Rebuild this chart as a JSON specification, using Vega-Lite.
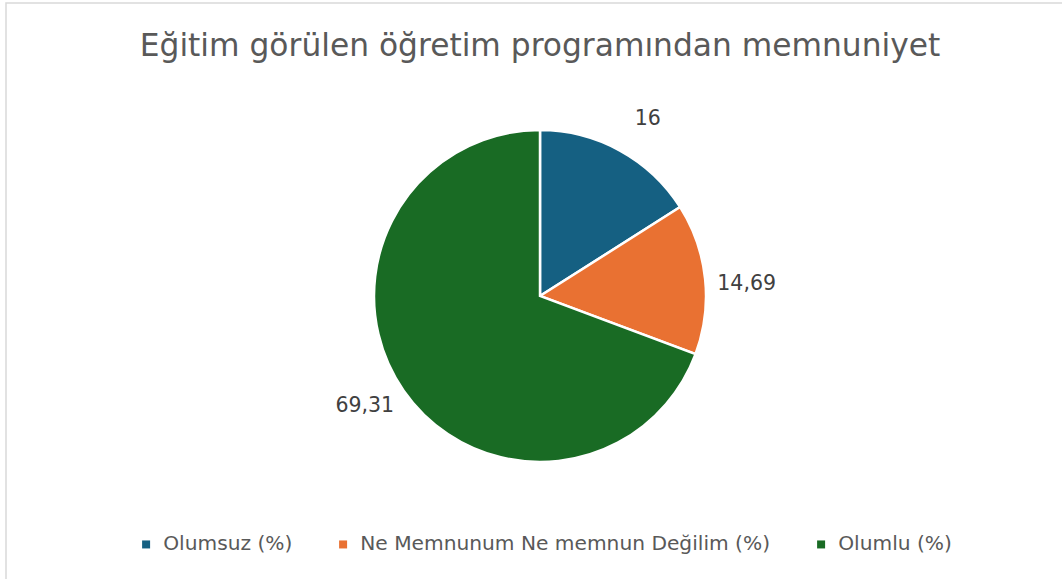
{
  "$schema": "https://vega.github.io/schema/vega-lite/v6.json",
  "width": 1068,
  "height": 586,
  "autosize": {"type": "none"},
  "padding": {"left": 6, "top": 3, "right": -12, "bottom": -10},
  "background": "white",
  "view": {"stroke": "#d9d9d9", "strokeWidth": 1.5, "fill": "white"},
  "config": {
    "view": {"stroke": "#d9d9d9", "strokeWidth": 1.5},
    "locale": {"number": {"decimal": ",", "thousands": ".", "grouping": [3], "currency": ["", " ₺"]}}
  },
  "title": {
    "text": "Eğitim görülen öğretim programından memnuniyet",
    "font": "DejaVu Sans",
    "fontSize": 31.3,
    "fontWeight": "normal",
    "color": "#595959",
    "anchor": "middle",
    "frame": "group",
    "offset": -59
  },
  "data": {
    "values": [
      {"kategori": "Olumsuz (%)", "deger": 16, "sira": 1},
      {"kategori": "Ne Memnunum Ne memnun Değilim (%)", "deger": 14.69, "sira": 2},
      {"kategori": "Olumlu (%)", "deger": 69.31, "sira": 3}
    ]
  },
  "encoding": {
    "theta": {"field": "deger", "type": "quantitative", "stack": true},
    "order": {"field": "sira", "type": "quantitative"},
    "color": {
      "field": "kategori",
      "type": "nominal",
      "scale": {
        "domain": ["Olumsuz (%)", "Ne Memnunum Ne memnun Değilim (%)", "Olumlu (%)"],
        "range": ["#156082", "#E97132", "#196B24"]
      },
      "legend": {
        "orient": "none",
        "legendX": 130,
        "legendY": 531,
        "direction": "horizontal",
        "title": null,
        "symbolType": "square",
        "symbolSize": 64,
        "symbolStrokeWidth": 0,
        "labelFont": "DejaVu Sans",
        "labelFontSize": 20.2,
        "labelColor": "#595959",
        "labelOffset": 7,
        "columnPadding": 40,
        "padding": 0,
        "labelLimit": 600
      }
    }
  },
  "layer": [
    {
      "mark": {"type": "arc", "outerRadius": 166, "stroke": "white", "strokeWidth": 2.5}
    },
    {
      "mark": {"type": "text", "radius": 207, "thetaOffset": 0.045, "font": "DejaVu Sans", "fontSize": 20.5, "color": "#404040", "align": "center", "baseline": "middle"},
      "encoding": {
        "text": {"field": "deger", "type": "quantitative", "format": ".2~f"},
        "color": {"value": "#404040"}
      }
    }
  ]
}
